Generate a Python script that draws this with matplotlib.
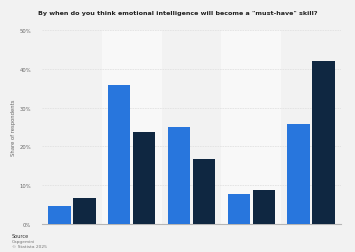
import matplotlib.pyplot as plt
import numpy as np

# five answer groups, labels not shown in the chart
groups = ['', '', '', '', '']
series_a = [4.6, 35.9, 25.0, 7.7, 25.9]
series_b = [6.7, 23.8, 16.8, 8.8, 42.1]
yticks = [0, 10, 20, 30, 40, 50]

bg = '#f2f2f2'
fig = plt.figure(figsize=(3.55, 2.53), dpi=100, facecolor=bg)
ax = fig.add_axes([42/355, 1-225/253, 299/355, 194/253], facecolor=bg)

x = np.arange(len(groups))
# lighter bands behind every second group
for i in x:
    if i % 2 == 1:
        ax.axvspan(i-0.5, i+0.5, color='#f8f8f8', zorder=0, lw=0)

ax.bar(x-0.21, series_a, 0.375, color='#2876dd', zorder=3)
ax.bar(x+0.21, series_b, 0.375, color='#0f2741', zorder=3)

ax.set_xlim(-0.5, len(groups)-0.5)
ax.set_ylim(0, 50)
ax.set_yticks(yticks)
ax.set_yticklabels([f'{t}%' for t in yticks], fontsize=3.8, color='#666666')
ax.set_xticks([])
ax.yaxis.grid(True, color='#e2e2e2', lw=0.6, ls=(0, (2, 1)), zorder=1)
for s in ['top', 'right', 'left']:
    ax.spines[s].set_visible(False)
ax.spines['bottom'].set_color('#b5b5b5')
ax.spines['bottom'].set_linewidth(0.8)
ax.tick_params(axis='y', length=0, pad=8)
ax.set_ylabel('Share of respondents', fontsize=3.8, color='#666666', labelpad=2)

fig.text(0.5, 1-13/253, 'By when do you think emotional intelligence will become a "must-have" skill?',
         ha='center', va='center', fontsize=4.6, fontweight='bold', color='#222222')
fig.text(12/355, 1-236/253, 'Source', fontsize=3.6, color='#333333', va='center')
fig.text(12/355, 1-242/253, 'Capgemini', fontsize=3.2, color='#777777', va='center')
fig.text(12/355, 1-247/253, '© Statista 2025', fontsize=3.2, color='#777777', va='center')

fig.savefig('out.png', dpi=100, facecolor=bg)
